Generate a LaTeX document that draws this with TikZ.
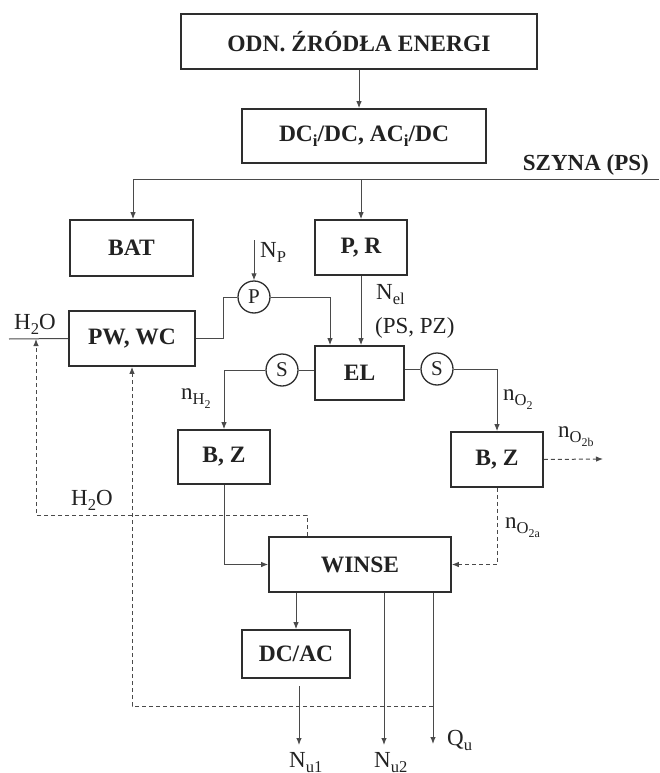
\documentclass[tikz,border=0pt]{standalone}
\usepackage{fontspec}
\setmainfont{Liberation Serif}
\usetikzlibrary{arrows.meta}
\definecolor{boxc}{HTML}{2E2E2E}
\definecolor{linec}{HTML}{4A4A4A}
\definecolor{txtc}{HTML}{222222}
\newcommand{\lo}[1]{\raisebox{-0.5ex}{\scalebox{0.72}{#1}}}
\begin{document}
\begin{tikzpicture}[x=1pt,y=-1pt,
  >={Latex[length=7pt,width=5.5pt]},
  box/.style={draw=boxc, line width=1.7pt, inner sep=0pt, text=txtc, font=\bfseries\fontsize{23.5}{26}\selectfont},
  conn/.style={draw=linec, line width=1pt},
  dsh/.style={conn, dash pattern=on 4pt off 3pt},
  lab/.style={text=txtc, font=\fontsize{23}{26}\selectfont, inner sep=0pt},
  valve/.style={circle, draw=boxc, line width=1.3pt, minimum size=32pt, inner sep=0pt, text=txtc, font=\fontsize{21}{22}\selectfont}]
\useasboundingbox (0,0) rectangle (659,773);

% boxes
\node[box, minimum width=356pt, minimum height=55pt] (odn) at (359,41.5) {ODN. ŹRÓDŁA ENERGI};
\node[box, minimum width=244pt, minimum height=54pt] (dc) at (364,136) {DC\lo{i}/DC, AC\lo{i}/DC};
\node[lab, font=\bfseries\fontsize{23}{26}\selectfont, anchor=base east] (szyna) at (649,170) {SZYNA (PS)};
\node[box, minimum width=123pt, minimum height=56pt] (bat) at (131.5,248) {BAT};
\node[box, minimum width=92pt, minimum height=55pt] (pr) at (361,247.5) {P, R};
\node[valve] (pc) at (254,297) {P};
\node[box, minimum width=126pt, minimum height=55pt] (pw) at (132,338.5) {PW, WC};
\node[box, minimum width=89pt, minimum height=54pt] (el) at (359.5,373) {EL};
\node[valve] (s1) at (282,370) {S};
\node[valve] (s2) at (437,369) {S};
\node[box, minimum width=92pt, minimum height=54pt] (bz1) at (224,457) {B, Z};
\node[box, minimum width=92pt, minimum height=55pt] (bz2) at (497,459.5) {B, Z};
\node[box, minimum width=182pt, minimum height=55pt] (winse) at (360,564.5) {WINSE};
\node[box, minimum width=108pt, minimum height=48pt] (dcac) at (296,654) {DC/AC};

% free ends
\coordinate (busR) at (659,179);
\coordinate (busL) at (133,179);
\coordinate (npT) at (254,240);
\coordinate (h2oL) at (9,339);
\coordinate (h2oJ) at (36,339);
\coordinate (o2b) at (603,459);
\coordinate (nu1T) at (299,686);
\coordinate (nu1) at (299,745);
\coordinate (nu2) at (384,745);
\coordinate (qu) at (433,744);
\coordinate (qj) at (433,706);

% connectors
\draw[conn,->] (odn.south) -- (odn.south |- dc.north);
\draw[conn] (busR) -- (busL);
\draw[conn,->] (busL) -- (busL |- bat.north);
\draw[conn,->] (pr.north |- busR) -- (pr.north);
\draw[conn,->] (npT) -- (pc.north);
\draw[conn] (h2oL) -- (pw.west);
\draw[conn] (pw.east) -- ++(28,0) |- (pc.west);
\draw[conn,->] (pc.east) -| ([xshift=-29.5pt]el.north);
\draw[conn,->] (pr.south) -- (pr.south |- el.north);
\draw[conn] (el.west |- s1) -- (s1.east);
\draw[conn,->] (s1.west) -| (bz1.north);
\draw[conn] (el.east |- s2) -- (s2.west);
\draw[conn,->] (s2.east) -| (bz2.north);
\draw[dsh,->] (bz2.east) -- (o2b);
\draw[dsh,->] (bz2.south) |- (winse.east);
\draw[conn,->] (bz1.south) |- (winse.west);
\draw[dsh,->] ([xshift=-53pt]winse.north) -- ++(0,-21) -| (h2oJ);
\draw[conn,->] (dcac.north |- winse.south) -- (dcac.north);
\draw[conn,->] (nu1T) -- (nu1);
\draw[conn,->] (nu2 |- winse.south) -- (nu2);
\draw[conn,->] (qu |- winse.south) -- (qu);
\draw[dsh,->] (qj) -| (pw.south);

% labels
\node[lab, anchor=base west] (lnp) at (260,257) {N\lo{P}};
\node[lab, anchor=base west] (lnel) at (376,299) {N\lo{el}};
\node[lab, anchor=base west] (lps) at (375,333) {(PS, PZ)};
\node[lab, anchor=base west] (lh2o1) at (14,329) {H\lo{2}O};
\node[lab, anchor=base west] (lnh2) at (181,399) {n\lo{H\lo{2}}};
\node[lab, anchor=base west] (lno2) at (503,400) {n\lo{O\lo{2}}};
\node[lab, anchor=base west] (lno2b) at (558,437) {n\lo{O\lo{2b}}};
\node[lab, anchor=base west] (lno2a) at (505,528) {n\lo{O\lo{2a}}};
\node[lab, anchor=base west] (lh2o2) at (71,505) {H\lo{2}O};
\node[lab, anchor=base west] (lnu1) at (289,767) {N\lo{u1}};
\node[lab, anchor=base west] (lnu2) at (374,767) {N\lo{u2}};
\node[lab, anchor=base west] (lqu) at (447,745) {Q\lo{u}};
\end{tikzpicture}
\end{document}
